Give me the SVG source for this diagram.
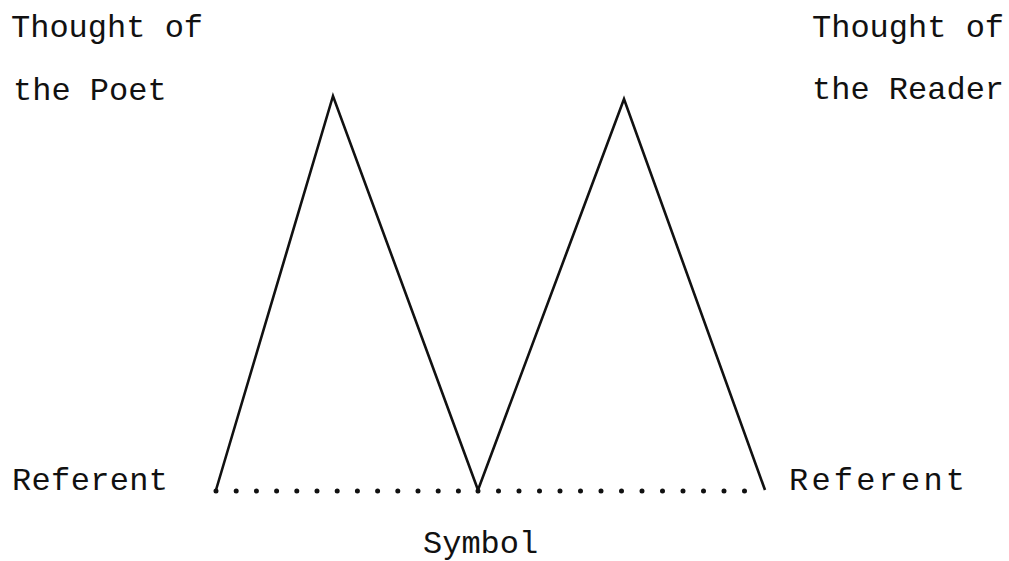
<svg xmlns="http://www.w3.org/2000/svg" width="1009" height="561" viewBox="0 0 1009 561">
<style>
.t{font-family:"Liberation Mono","Courier New",monospace;font-size:32px;fill:#111;}
.ln{fill:none;stroke:#111;stroke-width:2.6;stroke-linejoin:miter;}
.dot{stroke:#111;stroke-width:5;stroke-linecap:round;stroke-dasharray:0 20.2;fill:none;}
</style>
<rect width="1009" height="561" fill="#fff"/>
<g id="poet"><text class="t" x="11" y="37">Thought of</text><text class="t" x="13" y="100">the Poet</text></g>
<g id="reader"><text class="t" x="812" y="37">Thought of</text><text class="t" x="812" y="99">the Reader</text></g>
<g id="referent-left"><text class="t" x="12" y="490" textLength="156">Referent</text></g>
<g id="referent-right"><text class="t" x="789" y="490" textLength="176">Referent</text></g>
<g id="symbol"><text class="t" x="423" y="553">Symbol</text></g>
<g id="connectors">
<polyline class="ln" points="216,490 333,96 478,490 624,99 765,490"/>
<line class="dot" x1="216" y1="491" x2="478" y2="491"/>
<line class="dot" x1="478" y1="491" x2="765" y2="491" style="stroke-dasharray:0 20.5"/>
</g>
</svg>
